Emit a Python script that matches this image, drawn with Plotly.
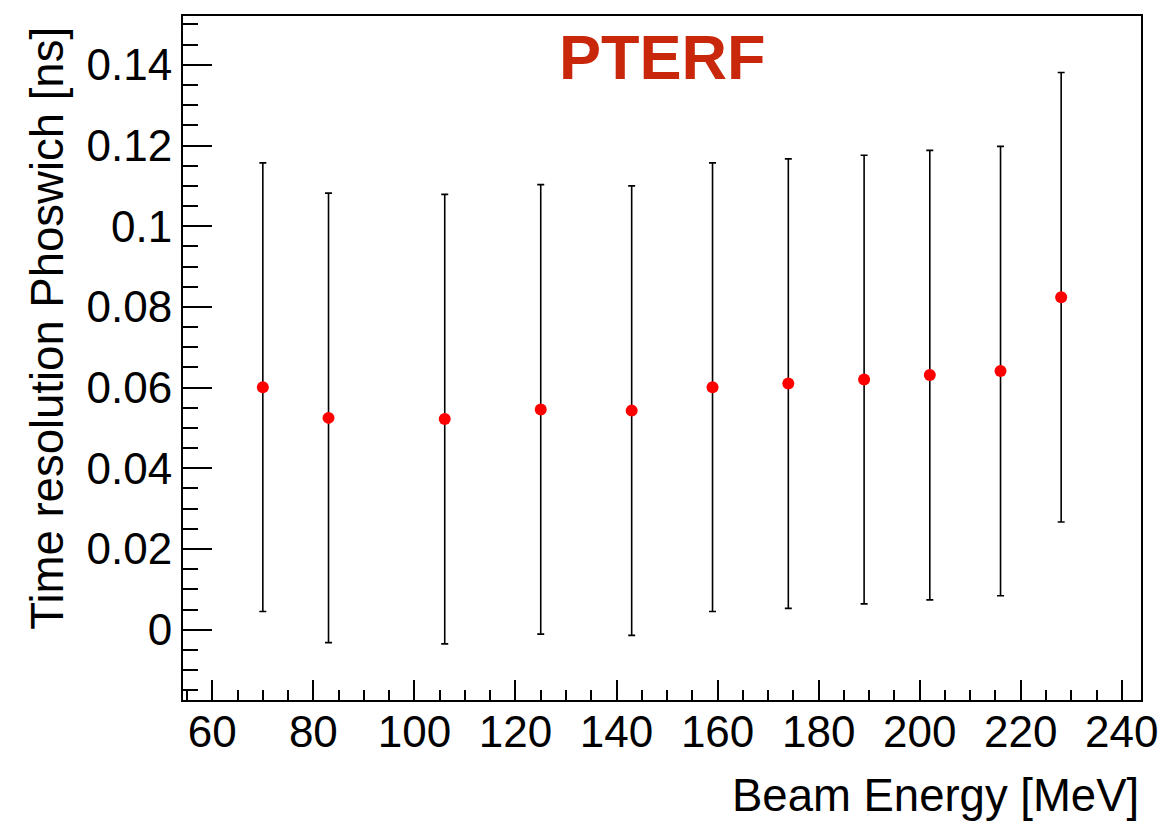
import plotly.graph_objects as go

# Beam energies [MeV] and measured time resolution of the phoswich [ns]
beam_energy = [70, 83, 106, 125, 143, 159, 174, 189, 202, 216, 228]
time_resolution = [0.0601, 0.0525, 0.0522, 0.0546, 0.0543, 0.0601,
                   0.0610, 0.0620, 0.0631, 0.0641, 0.0824]
resolution_error = [0.0556, 0.0557, 0.0557, 0.0557, 0.0557, 0.0556,
                    0.0557, 0.0556, 0.0557, 0.0557, 0.0557]

y_tick_vals = [0, 0.02, 0.04, 0.06, 0.08, 0.1, 0.12, 0.14]
y_tick_text = ["0", "0.02", "0.04", "0.06", "0.08", "0.1", "0.12", "0.14"]
x_tick_vals = [60, 80, 100, 120, 140, 160, 180, 200, 220, 240]

FONT = "Liberation Sans, Arial, Helvetica, sans-serif"

fig = go.Figure()
fig.add_trace(go.Scatter(
    x=beam_energy,
    y=time_resolution,
    mode="markers",
    marker=dict(color="#ff0000", size=12),
    error_y=dict(type="data", array=resolution_error, visible=True,
                 color="black", thickness=1.6, width=3.5),
    showlegend=False,
))

axis_common = dict(
    showline=True, linecolor="black", linewidth=2, mirror=True,
    ticks="inside", tickcolor="black", tickwidth=1.6,
    showgrid=False, zeroline=False,
    tickfont=dict(family=FONT, size=44, color="black"),
)

fig.update_xaxes(
    range=[54.2, 243.8],
    tickvals=x_tick_vals,
    ticklen=20,
    ticklabelstandoff=-8,
    minor=dict(dtick=5, tick0=0, ticks="inside", ticklen=10,
               tickcolor="black", tickwidth=1.6, showgrid=False),
    **axis_common,
)
fig.update_yaxes(
    range=[-0.01742, 0.1521],
    tickvals=y_tick_vals,
    ticktext=y_tick_text,
    ticklen=29,
    minor=dict(dtick=0.005, tick0=0, ticks="inside", ticklen=15,
               tickcolor="black", tickwidth=1.6, showgrid=False),
    **axis_common,
)

fig.add_annotation(
    text="Beam Energy [MeV]", xref="paper", yref="paper",
    x=1.0, y=-0.139, xanchor="right", yanchor="middle", showarrow=False,
    font=dict(family=FONT, size=45.5, color="black"),
)
fig.add_annotation(
    text="Time resolution Phoswich [ns]", xref="paper", yref="paper",
    x=-0.141, y=0.988, xanchor="center", yanchor="top", textangle=-90,
    showarrow=False,
    font=dict(family=FONT, size=45.5, color="black"),
)
fig.add_annotation(
    text="<b>PTERF</b>", xref="paper", yref="paper",
    x=0.501, y=0.94, xanchor="center", yanchor="middle", showarrow=False,
    font=dict(family=FONT, size=63, color="#c9270b"),
)

fig.update_layout(
    width=1173, height=826,
    margin=dict(l=183, r=32, t=16, b=126),
    paper_bgcolor="white", plot_bgcolor="white",
)

fig.write_html("out.html")
